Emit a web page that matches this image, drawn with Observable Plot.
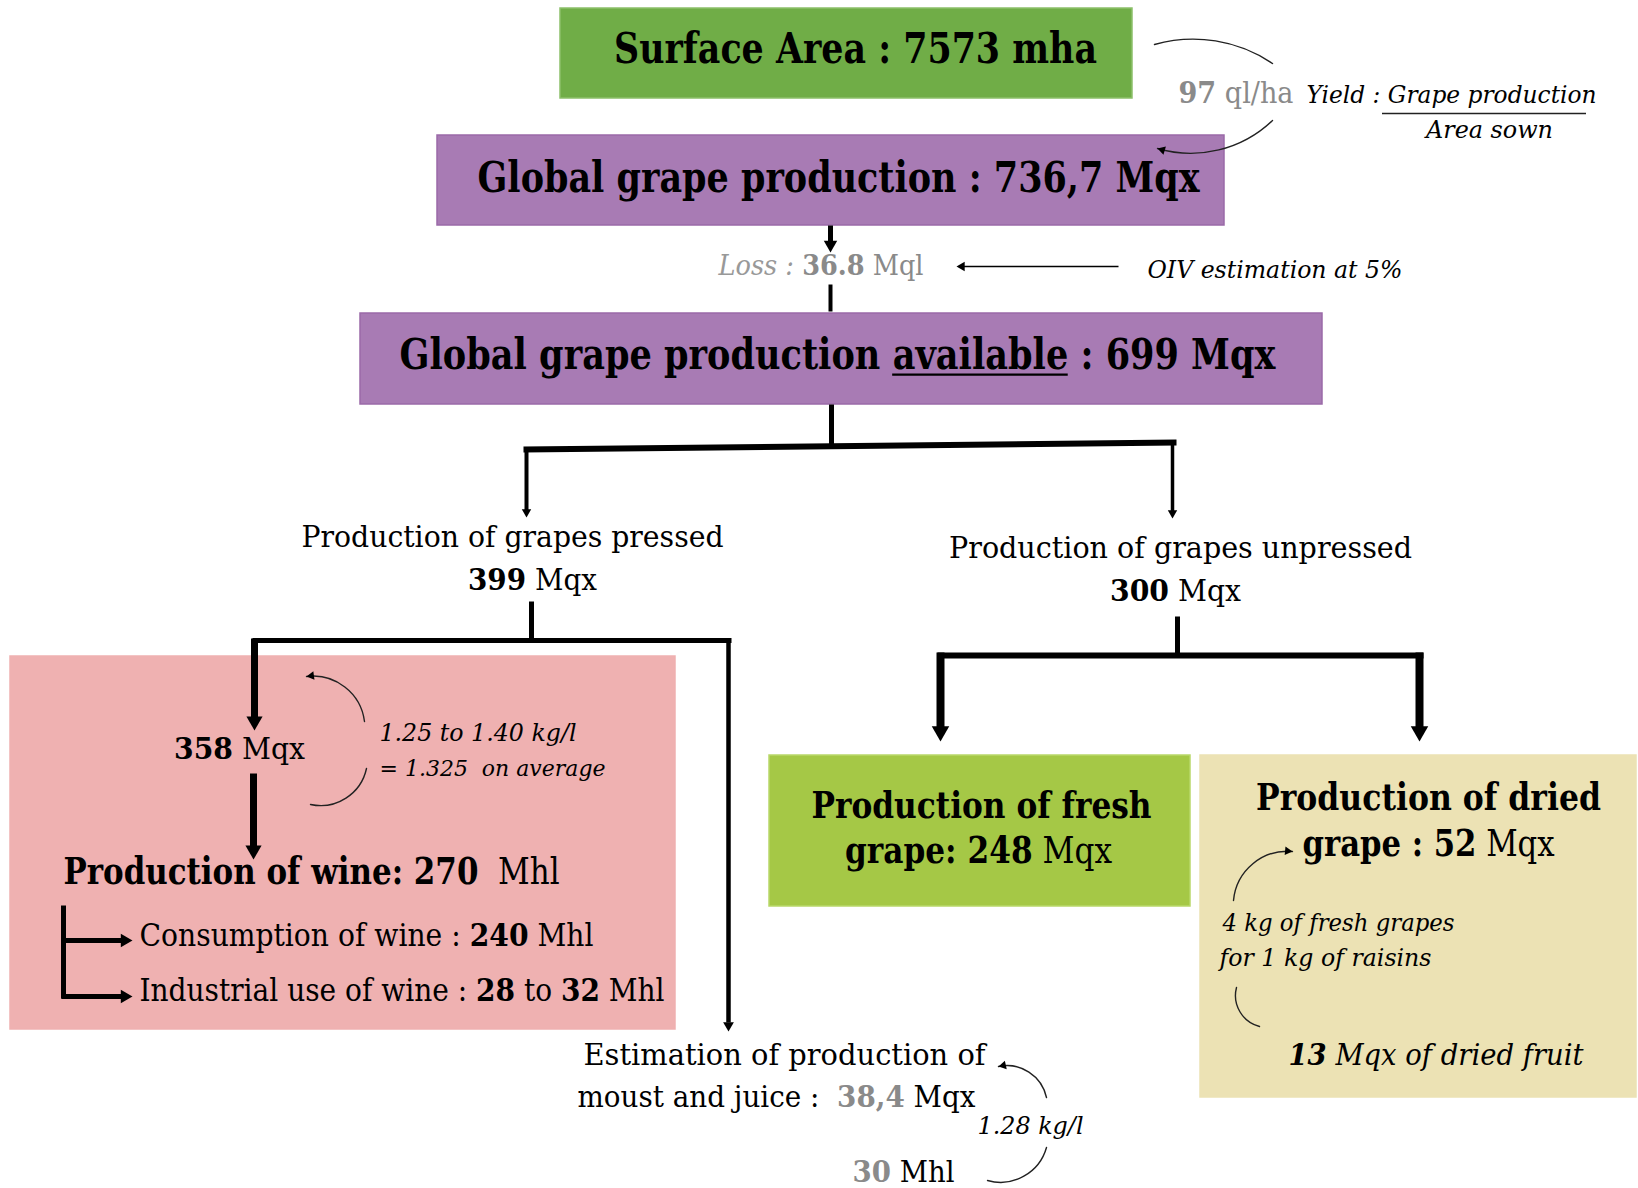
<!DOCTYPE html>
<html><head><meta charset="utf-8">
<script src="https://cdn.jsdelivr.net/npm/d3@7"></script>
<script src="https://cdn.jsdelivr.net/npm/@observablehq/plot@0.6"></script>
<style>body{margin:0;background:#fff} #chart svg{display:block}</style>
</head><body><div id="chart"></div>
<script>
// ---------- values ----------
const surfaceArea = 7573;        // mha
const yieldQlHa = 97;            // ql/ha
const globalProduction = "736,7";// Mqx
const lossMql = "36.8";          // Mql
const lossRate = "5%";
const availableMqx = 699;
const pressedMqx = 399;
const unpressedMqx = 300;
const wineGrapesMqx = 358;
const wineRatio = ["1.25", "1.40", "1.325"]; // kg/l
const wineMhl = 270;
const consumptionMhl = 240;
const industrialMhl = [28, 32];
const moustMqx = "38,4";
const moustMhl = 30;
const moustRatio = "1.28";       // kg/l
const freshMqx = 248;
const driedMqx = 52;
const driedFruitMqx = 13;
const driedRatio = [4, 1];       // kg fresh per kg raisins

// ---------- styles ----------
const GRAY = "#8a8a8a";
const boxNames = ["surface", "global", "available", "wine", "fresh", "dried"];
const boxFill = {surface: "#70ad47", global: "#a87bb4", available: "#a87bb4", wine: "#efb1b1", fresh: "#a5c846", dried: "#ece2b4"};
const boxStroke = {surface: "#8cc06a", global: "#9a6aa8", available: "#9a6aa8", wine: "#efb1b1", fresh: "#b9d86a", dried: "#ece2b4"};
const FAM = "DejaVu Serif";

// ---------- layout ----------
const boxPos = {
  surface: [560, 1132, 8, 98], global: [437, 1224, 135, 225], available: [360, 1322, 313, 404],
  wine: [10, 675, 656, 1029], fresh: [769, 1190, 755, 906], dried: [1200, 1636, 755, 1097]
};
const boxes = boxNames.map(n => ({name: n, x1: boxPos[n][0], x2: boxPos[n][1], y1: boxPos[n][2], y2: boxPos[n][3], fill: boxFill[n], stroke: boxStroke[n]}));

// text lines: anchor point, target width, height factor k, segments [text, style, color, underline]
const lines = [
  {x: 855, y: 49, a: "middle", w: 483, k: 1.22, segs: [[`Surface Area : ${surfaceArea} mha`, "b"]]},
  {x: 838, y: 178, a: "middle", w: 722, k: 1.24, segs: [[`Global grape production : ${globalProduction} Mqx`, "b"]]},
  {x: 718, y: 266, a: "start", w: 205, k: 1.08, segs: [["Loss : ", "i", "#999"], [lossMql, "b", GRAY], [" Mql", "r", GRAY]]},
  {x: 1147, y: 270, a: "start", w: 255, k: 1.05, segs: [[`OIV estimation at ${lossRate}`, "i"]]},
  {x: 837, y: 355, a: "middle", w: 876, k: 1.24, segs: [["Global grape production ", "b"], ["available", "b", null, true], [` : ${availableMqx} Mqx`, "b"]]},
  {x: 512, y: 537, a: "middle", w: 422, k: 1.06, segs: [["Production of grapes pressed", "r"]]},
  {x: 532, y: 580, a: "middle", w: 129, k: 1.08, segs: [[`${pressedMqx}`, "b"], [" Mqx", "r"]]},
  {x: 1180, y: 548, a: "middle", w: 463, k: 1.06, segs: [["Production of grapes unpressed", "r"]]},
  {x: 1175, y: 591, a: "middle", w: 131, k: 1.08, segs: [[`${unpressedMqx}`, "b"], [" Mqx", "r"]]},
  {x: 239, y: 749, a: "middle", w: 131, k: 1.08, segs: [[`${wineGrapesMqx}`, "b"], [" Mqx", "r"]]},
  {x: 379, y: 733, a: "start", w: 197, k: 1.04, segs: [[`${wineRatio[0]} to ${wineRatio[1]} kg/l`, "i"]]},
  {x: 379, y: 768, a: "start", w: 226, k: 1.04, segs: [[`= ${wineRatio[2]}\u00a0 on average`, "i"]]},
  {x: 63, y: 872, a: "start", w: 496, k: 1.2, segs: [[`Production of wine: ${wineMhl}`, "b"], ["\u00a0 Mhl", "r"]]},
  {x: 139, y: 936, a: "start", w: 454, k: 1.1, segs: [["Consumption of wine : ", "r"], [`${consumptionMhl}`, "b"], [" Mhl", "r"]]},
  {x: 139, y: 991, a: "start", w: 525, k: 1.1, segs: [["Industrial use of wine : ", "r"], [`${industrialMhl[0]}`, "b"], [" to ", "r"], [`${industrialMhl[1]}`, "b"], [" Mhl", "r"]]},
  {x: 784, y: 1055, a: "middle", w: 402, k: 1.06, segs: [["Estimation of production of", "r"]]},
  {x: 577, y: 1097, a: "start", w: 398, k: 1.06, segs: [["moust and juice :\u00a0 ", "r"], [moustMqx, "b", GRAY], [" Mqx", "r"]]},
  {x: 977, y: 1126, a: "start", w: 106, k: 1.04, segs: [[`${moustRatio} kg/l`, "i"]]},
  {x: 852, y: 1172, a: "start", w: 102, k: 1.08, segs: [[`${moustMhl}`, "b", GRAY], [" Mhl", "r"]]},
  {x: 981, y: 805, a: "middle", w: 340, k: 1.2, segs: [["Production of fresh", "b"]]},
  {x: 978, y: 851, a: "middle", w: 267, k: 1.2, segs: [[`grape: ${freshMqx}`, "b"], [" Mqx", "r"]]},
  {x: 1428, y: 797, a: "middle", w: 345, k: 1.2, segs: [["Production of dried", "b"]]},
  {x: 1428, y: 844, a: "middle", w: 252, k: 1.2, segs: [[`grape : ${driedMqx}`, "b"], [" Mqx", "r"]]},
  {x: 1222, y: 923, a: "start", w: 232, k: 1.04, segs: [[`${driedRatio[0]} kg of fresh grapes`, "i"]]},
  {x: 1219, y: 958, a: "start", w: 212, k: 1.04, segs: [[`for ${driedRatio[1]} kg of raisins`, "i"]]},
  {x: 1288, y: 1055, a: "start", w: 295, k: 1.1, segs: [[`${driedFruitMqx}`, "bi"], [" Mqx of dried fruit", "i"]]},
  {x: 1178, y: 93, a: "start", w: 115, k: 1.08, segs: [[`${yieldQlHa}`, "b", GRAY], [" ql/ha", "r", GRAY]]},
  {x: 1306, y: 95, a: "start", w: 290, k: 1.04, segs: [["Yield : Grape production", "i"]]},
  {x: 1489, y: 130, a: "middle", w: 127, k: 1.04, segs: [["Area sown", "i"]]}
];

// straight shafts [x1,y1,x2,y2,width]
const shafts = [
  [830, 225, 830, 246, 5], [830, 284, 830, 311, 4], [1118, 266, 962, 266, 1.5],
  [831, 404, 831, 447, 5], [523, 449, 1176, 442, 6], [526, 449, 526, 510, 4], [1172, 442, 1172, 511, 3.5],
  [531, 601, 531, 642, 5], [252, 640, 731, 640, 5], [254, 638, 254, 718, 7], [728, 638, 728, 1022, 4.5],
  [253, 773, 253, 849, 7], [63, 905, 63, 998, 5], [61, 940, 124, 940, 5], [61, 996, 124, 996, 5],
  [1177, 616, 1177, 657, 5], [937, 655, 1423, 655, 6], [940, 652, 940, 728, 8], [1419, 652, 1419, 728, 8]
];
// arrow heads: tip x, tip y, direction (deg, screen), radius
const heads = [
  [830, 252, 90, 5], [956, 266, 180, 3.5], [526, 517, 90, 3.5], [1172, 518, 90, 3.5],
  [254, 730, 90, 6], [728, 1031, 90, 4], [253, 859, 90, 6], [132, 940, 0, 5], [132, 996, 0, 5],
  [940, 741, 90, 6.5], [1419, 741, 90, 6.5]
];
// curved connectors: x1,y1,x2,y2,bend,head?
const curves = [
  [364, 721, 306, 676, -45, true], [366, 768, 310, 804, 45, false],
  [1046, 1097, 998, 1066, -45, true], [1046, 1147, 987, 1180, 45, false],
  [1233, 900, 1292, 851, 45, true], [1236, 987, 1259, 1026, -45, false],
  [1154, 44, 1272, 63, 25, false], [1272, 120, 1157, 148, 30, true]
];
const fractionBar = [[1382, 1586, 113]];

// ---------- text measurement ----------
const ctx = document.createElement("canvas").getContext("2d");
const fontStr = (st, size) => `${st.includes("i") ? "italic " : ""}${st.includes("b") ? "bold " : ""}${size}px ${FAM}`;
const measure = (t, st, size) => { ctx.font = fontStr(st, size); return ctx.measureText(t).width; };
const TRIM_L = /^[\s\u00a0]+/, TRIM = /^[\s\u00a0]+|[\s\u00a0]+$/g;

const segs = [], underlines = [];
for (const L of lines) {
  const natural100 = d3.sum(L.segs, s => measure(s[0], s[1], 100));
  const size = L.w / natural100 * 100 * L.k;          // taller glyphs ...
  const squeeze = L.w / d3.sum(L.segs, s => measure(s[0], s[1], size)); // ... squeezed back to the target width
  let x = L.a === "middle" ? L.x - L.w / 2 : L.x;
  for (const [t, st, col, ul] of L.segs) {
    const lead = t.length - t.replace(TRIM_L, "").length;
    const leadW = lead ? measure(t.slice(0, lead), st, size) * squeeze : 0;
    const trimmed = t.replace(TRIM, "");
    const tw = measure(trimmed, st, size) * squeeze;
    segs.push({x: x + leadW, y: L.y, t: trimmed, size, st, len: tw, color: col || "#000"});
    if (ul) underlines.push({x1: x + leadW, x2: x + leadW + tw, y: L.y + 0.44 * size, w: Math.max(1.5, size * 0.06)});
    x += measure(t, st, size) * squeeze;
  }
}

// ---------- derived geometry for marks ----------
const shaftData = shafts.map(([x1, y1, x2, y2, w]) => ({x1, y1, x2, y2, w}));
const headData = heads.map(([x, y, dir, r]) => {
  const off = 1.555 * r, a = dir * Math.PI / 180;
  return {x: x - off * Math.cos(a), y: y - off * Math.sin(a), rotate: dir + 90, r};
});
const curveData = curves.map(([x1, y1, x2, y2, bend, head]) => ({x1, y1, x2, y2, bend, head}));
const curveHeads = curveData.filter(d => d.head).map(d => {
  const chord = Math.atan2(d.y2 - d.y1, d.x2 - d.x1);
  const end = chord + d.bend * Math.PI / 180;
  const r = 3.2, off = 1.555 * r;
  return {x: d.x2 - off * Math.cos(end), y: d.y2 - off * Math.sin(end), rotate: end * 180 / Math.PI + 90, r};
});

const styleKeys = [...new Set(segs.map(d => d.st))];
const textMarks = styleKeys.map(st =>
  Plot.text(segs.filter(d => d.st === st), {
    x: "x", y: "y", text: "t", fontSize: "size", fill: "color", textAnchor: "start",
    fontWeight: st.includes("b") ? "bold" : "normal", fontStyle: st.includes("i") ? "italic" : "normal",
    fontFamily: FAM
  })
);

const curveMarks = [...new Set(curveData.map(d => d.bend))].map(b =>
  Plot.arrow(curveData.filter(d => d.bend === b), {x1: "x1", y1: "y1", x2: "x2", y2: "y2", bend: b, headLength: 0, stroke: "#222", strokeWidth: 1.4})
);
const allHeads = headData.concat(curveHeads);
const headMarks = [...new Set(allHeads.map(d => d.r))].map(r =>
  Plot.dot(allHeads.filter(d => d.r === r), {x: "x", y: "y", rotate: "rotate", symbol: "triangle", r, fill: "#000", stroke: "none"})
);

const chart = Plot.plot({
  width: 1638, height: 1188, margin: 0,
  x: {domain: [0, 1638], range: [0, 1638], axis: null},
  y: {domain: [0, 1188], range: [0, 1188], axis: null},
  color: {type: "identity"},
  style: {background: "#fff"},
  marks: [
    Plot.rect(boxes, {x1: "x1", x2: "x2", y1: "y1", y2: "y2", fill: "fill", stroke: "stroke", strokeWidth: 1.5}),
    Plot.link(shaftData, {x1: "x1", y1: "y1", x2: "x2", y2: "y2", strokeWidth: "w", stroke: "#000", strokeLinecap: "butt"}),
    ...curveMarks,
    ...headMarks,
    Plot.ruleY(fractionBar, {x1: d => d[0], x2: d => d[1], y: d => d[2], stroke: "#222", strokeWidth: 1.4}),
    Plot.ruleY(underlines, {x1: "x1", x2: "x2", y: "y", strokeWidth: 2.2, stroke: "#000"}),
    ...textMarks
  ]
});

// squeeze each text run to its measured width (glyphs drawn taller, like the original Cambria)
const textGroups = chart.querySelectorAll('g[aria-label="text"]');
styleKeys.forEach((st, gi) => {
  const data = segs.filter(d => d.st === st);
  const g = textGroups[gi];
  if (!g) return;
  g.querySelectorAll("text").forEach((node, i) => {
    if (data[i] && node.textContent === data[i].t) {
      node.setAttribute("textLength", data[i].len.toFixed(1));
      node.setAttribute("lengthAdjust", "spacingAndGlyphs");
    }
  });
});
document.getElementById("chart").append(chart);
</script>
</body></html>
